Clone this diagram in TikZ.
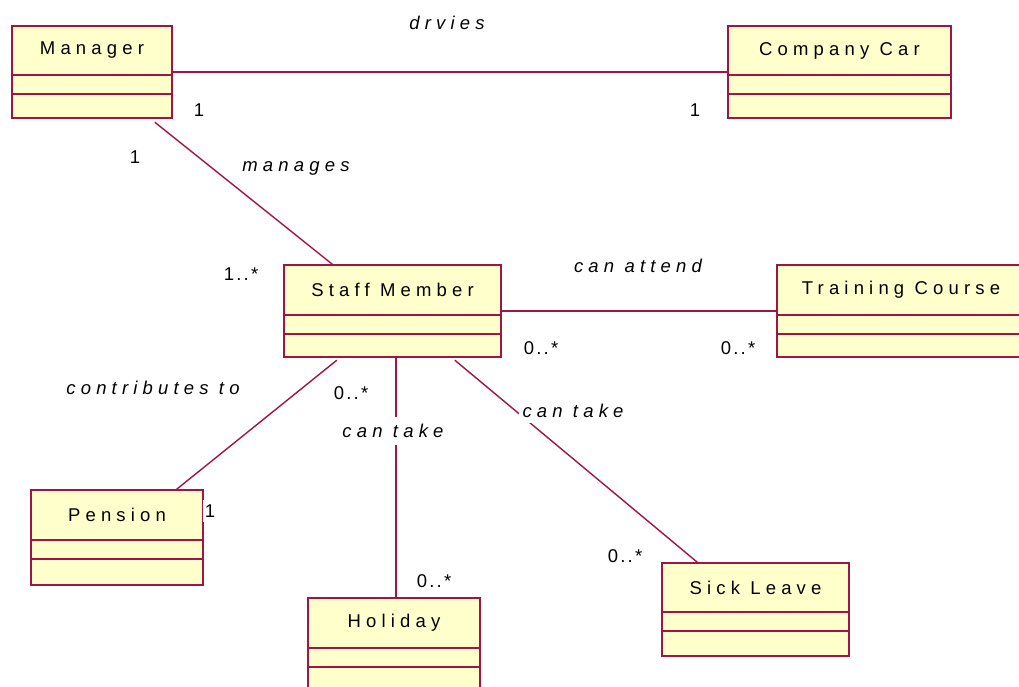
\documentclass[tikz,border=0pt]{standalone}
\usepackage{fontspec}
\setmainfont{Liberation Sans}
\newfontfamily\umlfont[LetterSpace=28]{Liberation Sans}
\newfontfamily\multfont[LetterSpace=12]{Liberation Sans}
\usetikzlibrary{calc,fit}
\definecolor{fy}{RGB}{255,255,204}
\definecolor{bd}{RGB}{160,20,70}
\tikzset{
  boxline/.style={draw=bd, line width=1.6pt},
  title/.style={font=\umlfont\fontsize{18.5}{21}\selectfont, inner sep=0pt},
  lbl/.style={font=\umlfont\itshape\fontsize{18.5}{21}\selectfont, inner sep=3pt},
  mult/.style={font=\multfont\fontsize{18.5}{21}\selectfont, inner sep=2pt},
  gap/.style={fill=white},
  assoc/.style={draw=bd, line width=1.4pt},
}
\newcommand{\umlclass}[8]{%
  \path[boxline, fill=fy] (#2,#3) rectangle (#4,#5);
  \draw[boxline] (#2,#6) -- (#4,#6);
  \draw[boxline] (#2,#7) -- (#4,#7);
  \node[fit={(#2,#3)(#4,#5)}, inner sep=0pt] (#1) {};
  \node[title] (#1-t) at ($(#2,#3)!0.5!(#4,#6)$) {#8};
}
\begin{document}
\begin{tikzpicture}[x=1pt,y=-1pt]
\useasboundingbox (0,0) rectangle (1019,686);
\clip (0,0) rectangle (1019,686);
\fill[white] (0,0) rectangle (1019,686);
% classes
\umlclass{mgr}{12}{26}{172}{118}{75}{94}{Manager}
\umlclass{car}{728}{26}{951}{118}{75}{94}{Company Car}
\umlclass{staff}{284}{265}{501}{357}{315}{334}{Staff Member}
\umlclass{train}{777}{265}{1025}{357}{315}{334}{Training Course}
\umlclass{pension}{31}{490}{203}{585}{540}{559}{Pension}
\umlclass{holiday}{308}{598}{480}{720}{648}{667}{Holiday}
\umlclass{sick}{662}{563}{849}{656}{612}{631}{Sick Leave}
% associations
\draw[assoc] (mgr.east |- 0,72) -- (car.west |- 0,72);
\draw[assoc] ($(mgr.south west)+(143,4)$) -- (staff.north -| 333,0);
\draw[assoc] (staff.east |- 0,311) -- (train.west |- 0,311);
\draw[assoc] ($(staff.south west)+(53,3)$) -- (pension.north -| 176,0);
\draw[assoc] (staff.south -| 396,0) -- (holiday.north -| 396,0);
\draw[assoc] ($(staff.south west)+(171,3)$) -- (sick.north -| 698,0);
% labels
\node[lbl] (l1) at (447,23) {drvies};
\node[mult] (m1) at (199,110) {1};
\node[mult] (m2) at (695,110) {1};
\node[mult] (m3) at (135,157) {1};
\node[lbl] (l2) at (296,168) {manages};
\node[mult] (m4) at (241,274) {1..*};
\node[lbl] (l3) at (638,266) {can attend};
\node[mult] (m5) at (541,348) {0..*};
\node[mult] (m6) at (738,348) {0..*};
\node[lbl] (l4) at (153,388) {contributes to};
\node[mult] (m7) at (351,393) {0..*};
\node[lbl, gap, inner ysep=7pt] (l5) at (393,431) {can take};
\node[lbl, gap, inner xsep=4pt, inner ysep=5pt] (l6) at (573,411) {can take};
\node[mult, gap, inner ysep=5pt] (m8) at (210,511) {1};
\node[mult] (m9) at (434,581) {0..*};
\node[mult] (m10) at (625,556) {0..*};
\end{tikzpicture}
\end{document}
